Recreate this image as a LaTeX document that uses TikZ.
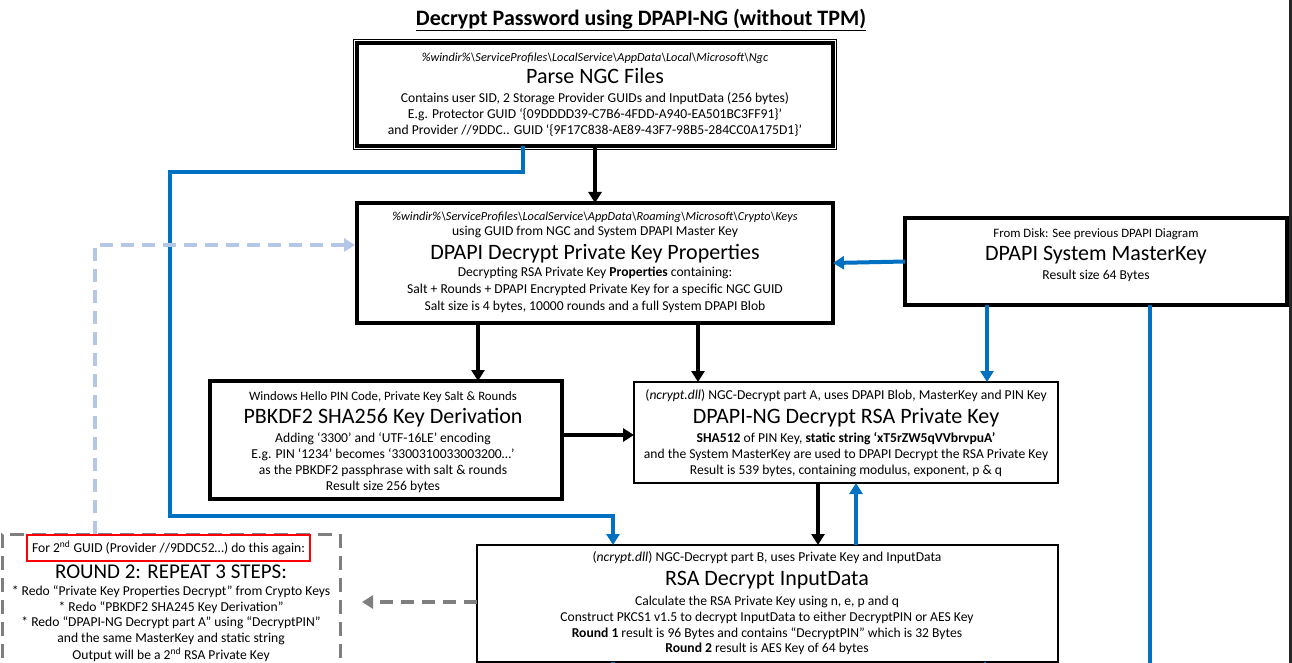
\documentclass[tikz,border=0pt]{standalone}
\usepackage{fontspec}
\setmainfont{Carlito}
\usetikzlibrary{arrows.meta}
\definecolor{mblue}{HTML}{0070C0}
\definecolor{lblue}{HTML}{B4C7E7}
\definecolor{dgray}{HTML}{7F7F7F}
\tikzset{
  thickbox/.style={draw=black,line width=4.5pt,inner sep=0pt,outer sep=0pt,fill=white},
  thinbox/.style={draw=black,line width=1.3pt,inner sep=0pt,outer sep=0pt,fill=white},
  txt/.style={anchor=mid,inner sep=0pt,yshift=-2.5pt,font=\fontsize{13.6}{15}\selectfont},
  pathtxt/.style={txt,font=\fontsize{12.3}{14}\selectfont\itshape},
  smalltxt/.style={txt,font=\fontsize{12.8}{14}\selectfont},
  headtxt/.style={anchor=mid,inner sep=0pt,yshift=-4.5pt,font=\fontsize{22}{26}\selectfont},
  blk/.style={draw=black,line width=4pt,-{Triangle[width=13pt,length=11pt]}},
  blu/.style={draw=mblue,line width=4pt,-{Triangle[width=13pt,length=11pt]}},
  bluline/.style={draw=mblue,line width=4pt},
  lbdash/.style={draw=lblue,line width=4pt,dash pattern=on 13pt off 8pt,-{Triangle[width=13pt,length=11pt]}},
  gdash/.style={draw=dgray,line width=4pt,dash pattern=on 13pt off 8pt,-{Triangle[width=13pt,length=11pt]}},
}
\begin{document}
\begin{tikzpicture}[x=1pt,y=-1pt]
\useasboundingbox (0,0) rectangle (1292,663);
\fill[white] (0,0) rectangle (1292,663);
\fill[black!85] (1289,0) rectangle (1292,663);

% title
\node[inner sep=0pt,font=\fontsize{22}{26}\selectfont\bfseries] (title) at (641,20) {\underline{Decrypt Password using DPAPI-NG (without TPM)}};

% x positions of connectors
\coordinate (xA) at (478,0);
\coordinate (xB) at (698,0);
\coordinate (xC) at (987,0);
\coordinate (xD) at (1150,0);
\coordinate (xE) at (818,0);
\coordinate (xF) at (856,0);
\coordinate (xG) at (523,0);
\coordinate (xH) at (170,0);
\coordinate (xI) at (613,0);
\coordinate (xJ) at (95,0);
\coordinate (xQ) at (985,0);
\coordinate (yL) at (0,172);
\coordinate (yM) at (0,516);
\coordinate (yK) at (0,435);
\coordinate (yN) at (0,602);
\coordinate (yP) at (0,245);
\coordinate (yBot) at (0,680);

% boxes
\node[thickbox,minimum width=476pt,minimum height=103pt,
  preaction={draw=black,line width=8pt},preaction={draw=white,line width=6pt}] (b1) at (595,94.5) {};
\node[thickbox,minimum width=476pt,minimum height=120pt] (b2) at (595,263) {};
\node[thickbox,minimum width=382pt,minimum height=87pt] (b3) at (1096,261.5) {};
\node[thickbox,minimum width=352pt,minimum height=118pt] (b4) at (386,440) {};
\node[thinbox,minimum width=424pt,minimum height=101pt] (b5) at (846,432.5) {};
\node[thinbox,minimum width=581pt,minimum height=117pt] (b6) at (767.5,603.5) {};
\node[draw=dgray,line width=3pt,dash pattern=on 14pt off 8pt,inner sep=0pt,outer sep=0pt,
  minimum width=338pt,minimum height=226pt] (b7) at (171,647) {};
\node[draw=red,line width=2.2pt,inner sep=0pt,outer sep=0pt,minimum width=283pt,minimum height=26pt,
  font=\fontsize{13.6}{15}\selectfont] (red) at (168.5,548) {For 2\textsuperscript{nd} GUID (Provider //9DDC52…) do this again:};

% box 1 text
\node[pathtxt] (t1a) at (595,57) {\%windir\%\textbackslash ServiceProfiles\textbackslash LocalService\textbackslash AppData\textbackslash Local\textbackslash Microsoft\textbackslash Ngc};
\node[headtxt] (t1b) at (595,77) {Parse NGC Files};
\node[txt] (t1c) at (595,98) {Contains user SID, 2 Storage Provider GUIDs and InputData (256 bytes)};
\node[txt] (t1d) at (595,114) {E.g. Protector GUID ‘\{09DDDD39-C7B6-4FDD-A940-EA501BC3FF91\}’};
\node[txt] (t1e) at (595,130) {and Provider //9DDC.. GUID ‘\{9F17C838-AE89-43F7-98B5-284CC0A175D1\}’};

% box 2 text
\node[pathtxt] (t2a) at (595,216) {\%windir\%\textbackslash ServiceProfiles\textbackslash LocalService\textbackslash AppData\textbackslash Roaming\textbackslash Microsoft\textbackslash Crypto\textbackslash Keys};
\node[txt] (t2b) at (595,231) {using GUID from NGC and System DPAPI Master Key};
\node[headtxt] (t2c) at (595,253) {DPAPI Decrypt Private Key Properties};
\node[txt] (t2d) at (595,272) {Decrypting RSA Private Key \textbf{Properties} containing:};
\node[txt] (t2e) at (595,289) {Salt + Rounds + DPAPI Encrypted Private Key for a specific NGC GUID};
\node[txt] (t2f) at (595,306) {Salt size is 4 bytes, 10000 rounds and a full System DPAPI Blob};

% box 3 text
\node[smalltxt] (t3a) at (1096,233) {From Disk: See previous DPAPI Diagram};
\node[headtxt] (t3b) at (1096,254) {DPAPI System MasterKey};
\node[txt] (t3c) at (1096,275) {Result size 64 Bytes};

% box 4 text
\node[smalltxt] (t4a) at (383,396) {Windows Hello PIN Code, Private Key Salt \& Rounds};
\node[headtxt] (t4b) at (383,417) {PBKDF2 SHA256 Key Derivation};
\node[txt] (t4c) at (383,438) {Adding ‘3300’ and ‘UTF-16LE’ encoding};
\node[txt] (t4d) at (383,454) {E.g. PIN ‘1234’ becomes ‘3300310033003200…’};
\node[txt] (t4e) at (383,470) {as the PBKDF2 passphrase with salt \& rounds};
\node[txt] (t4f) at (383,486) {Result size 256 bytes};

% box 5 text
\node[txt] (t5a) at (846,395) {(\textit{ncrypt.dll}) NGC-Decrypt part A, uses DPAPI Blob, MasterKey and PIN Key};
\node[headtxt] (t5b) at (846,417) {DPAPI-NG Decrypt RSA Private Key};
\node[txt] (t5c) at (846,438) {\textbf{SHA512} of PIN Key, \textbf{static string ‘xT5rZW5qVVbrvpuA’}};
\node[txt] (t5d) at (846,454) {and the System MasterKey are used to DPAPI Decrypt the RSA Private Key};
\node[txt] (t5e) at (846,470) {Result is 539 bytes, containing modulus, exponent, p \& q};

% box 6 text
\node[txt] (t6a) at (767,557) {(\textit{ncrypt.dll}) NGC-Decrypt part B, uses Private Key and InputData};
\node[headtxt] (t6b) at (767,579) {RSA Decrypt InputData};
\node[txt] (t6c) at (767,601) {Calculate the RSA Private Key using n, e, p and q};
\node[txt] (t6d) at (767,617) {Construct PKCS1 v1.5 to decrypt InputData to either DecryptPIN or AES Key};
\node[txt] (t6e) at (767,633) {\textbf{Round 1} result is 96 Bytes and contains “DecryptPIN” which is 32 Bytes};
\node[txt] (t6f) at (767,648) {\textbf{Round 2} result is AES Key of 64 bytes};

% box 7 text
\node[headtxt,font=\fontsize{21}{25}\selectfont] (t7a) at (171,572) {ROUND 2: REPEAT 3 STEPS:};
\node[txt] (t7b) at (171,591) {* Redo “Private Key Properties Decrypt” from Crypto Keys};
\node[txt] (t7c) at (171,607) {* Redo “PBKDF2 SHA245 Key Derivation”};
\node[txt] (t7d) at (171,622) {* Redo “DPAPI-NG Decrypt part A” using “DecryptPIN”};
\node[txt] (t7e) at (171,638) {and the same MasterKey and static string};
\node[txt] (t7f) at (171,655) {Output will be a 2\textsuperscript{nd} RSA Private Key};

% connectors
\draw[blk] (b1.south) -- (b2.north);
\draw[blk] (b2.south -| xA) -- (b4.north -| xA);
\draw[blk] (b2.south -| xB) -- (b5.north -| xB);
\draw[blu] (b3.west) -- (b2.east);
\draw[blu] (b3.south -| xC) -- (b5.north -| xC);
\draw[bluline] (b3.south -| xD) -- (xD |- yBot);
\draw[blk] (b4.east |- yK) -- (b5.west |- yK);
\draw[blk] (b5.south -| xE) -- (b6.north -| xE);
\draw[blu] (b6.north -| xF) -- (b5.south -| xF);
\draw[blu,line join=miter] (b1.south -| xG) -- (xG |- yL) -- (xH |- yL) -- (xH |- yM) -- (xI |- yM) -- (b6.north -| xI);
\draw[bluline] (b6.south -| xI) -- (xI |- yBot);
\draw[bluline,line width=1.5pt] (b6.south -| xQ) -- (xQ |- yBot);
\draw[gdash,shorten >=22pt] (b6.west |- yN) -- (b7.east |- yN);
\draw[lbdash,shorten >=2pt] (b7.north -| xJ) -- (xJ |- yP) -- (b2.west |- yP);
\end{tikzpicture}
\end{document}
